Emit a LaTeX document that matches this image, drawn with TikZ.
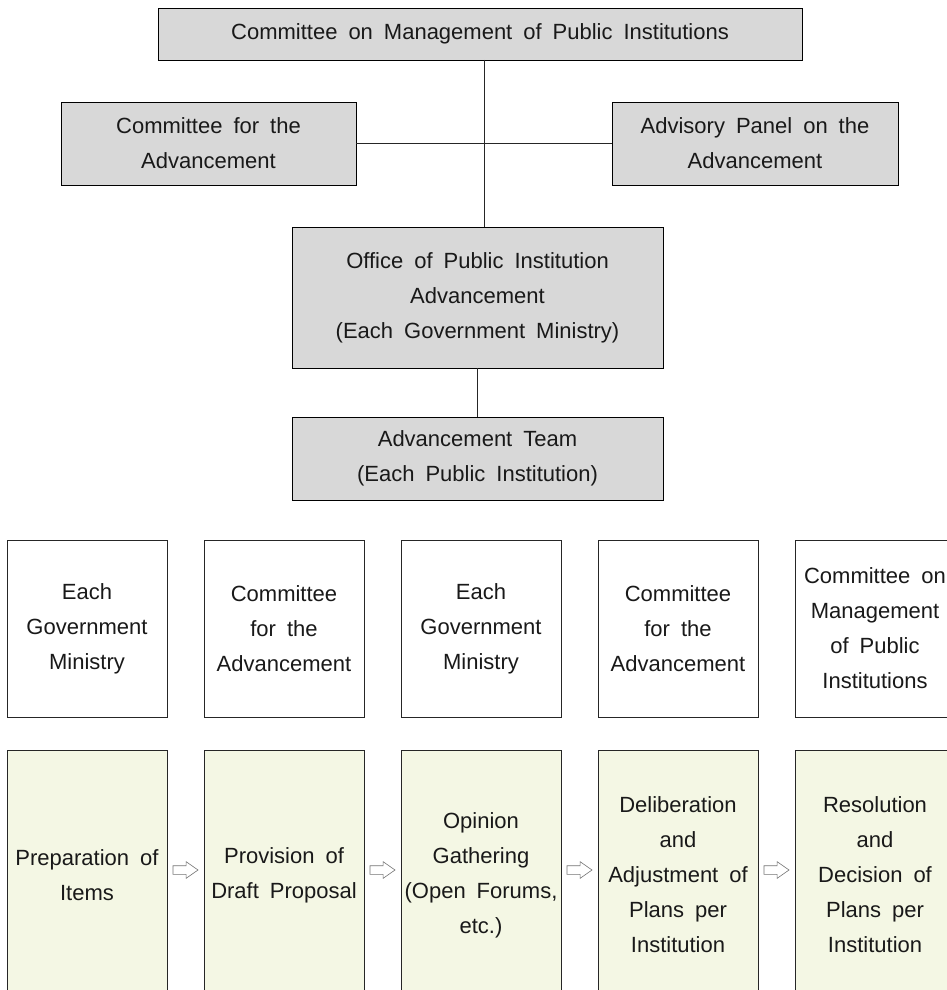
\documentclass[tikz,border=0pt]{standalone}
\usepackage{fontspec}
\setmainfont[WordSpace=1.8]{Liberation Sans}
\usetikzlibrary{positioning, shapes.arrows}

\definecolor{boxgray}{RGB}{216,216,216}
\definecolor{stagegreen}{RGB}{244,247,228}
\definecolor{inkgray}{RGB}{25,25,25}

\begin{document}
\begin{tikzpicture}[
  x=1pt, y=-1pt,
  every node/.style={font=\fontsize{22}{35}\selectfont, text=inkgray, align=center, inner sep=0pt, outer sep=0pt},
  orgbox/.style={rectangle, draw=black, fill=boxgray, line width=0.9pt},
  actorbox/.style={rectangle, draw=black!85, fill=white, line width=0.9pt, minimum width=160pt, minimum height=177pt},
  stagebox/.style={rectangle, draw=black!85, fill=stagegreen, line width=0.9pt, minimum width=160pt, minimum height=250pt},
  flow/.style={single arrow, draw=black!55, fill=white, line width=0.6pt, minimum height=25pt,
    single arrow head extend=4pt, single arrow tip angle=70, inner sep=4pt, yshift=5pt},
  link/.style={draw=black!85, line width=0.9pt}
]
\useasboundingbox (0,0) rectangle (947,990);

% organisation chart
\node[orgbox, minimum width=644pt, minimum height=52pt] (cmpi) at (480,34) {Committee on Management of Public Institutions};
\node[orgbox, minimum width=295pt, minimum height=83pt] (cadv) at (208.5,143.5) {Committee for the\\Advancement};
\node[orgbox, minimum width=286pt, minimum height=83pt] (panel) at (755,143.5) {Advisory Panel on the\\Advancement};
\node[orgbox, minimum width=371pt, minimum height=141pt] (office) at (477.5,297.5) {Office of Public Institution\\Advancement\\(Each Government Ministry)};
\node[orgbox, minimum width=371pt, minimum height=83pt] (team) at (477.5,458.5) {Advancement Team\\(Each Public Institution)};

\coordinate (spine) at (484,60);
\draw[link] (spine) -- (spine |- office.north);
\draw[link] (cadv.east) -- (panel.west);
\draw[link] (office.south) -- (team.north);

% actors
\node[actorbox] (a1) at (87,628.5) {Each\\Government\\Ministry};
\node[actorbox, right=37pt of a1] (a2) {Committee\\for the\\Advancement};
\node[actorbox, right=37pt of a2] (a3) {Each\\Government\\Ministry};
\node[actorbox, right=37pt of a3] (a4) {Committee\\for the\\Advancement};
\node[actorbox, right=37pt of a4] (a5) {Committee on\\Management\\of Public\\Institutions};

% stages
\node[stagebox] (s1) at (87,875) {Preparation of\\Items};
\node[flow, right=6pt of s1] (f1) {};
\node[stagebox, right=6pt of f1, yshift=-5pt] (s2) {Provision of\\Draft Proposal};
\node[flow, right=6pt of s2] (f2) {};
\node[stagebox, right=6pt of f2, yshift=-5pt] (s3) {Opinion\\Gathering\\(Open Forums,\\etc.)};
\node[flow, right=6pt of s3] (f3) {};
\node[stagebox, right=6pt of f3, yshift=-5pt] (s4) {Deliberation\\and\\Adjustment of\\Plans per\\Institution};
\node[flow, right=6pt of s4] (f4) {};
\node[stagebox, right=6pt of f4, yshift=-5pt] (s5) {Resolution\\and\\Decision of\\Plans per\\Institution};
\end{tikzpicture}
\end{document}
